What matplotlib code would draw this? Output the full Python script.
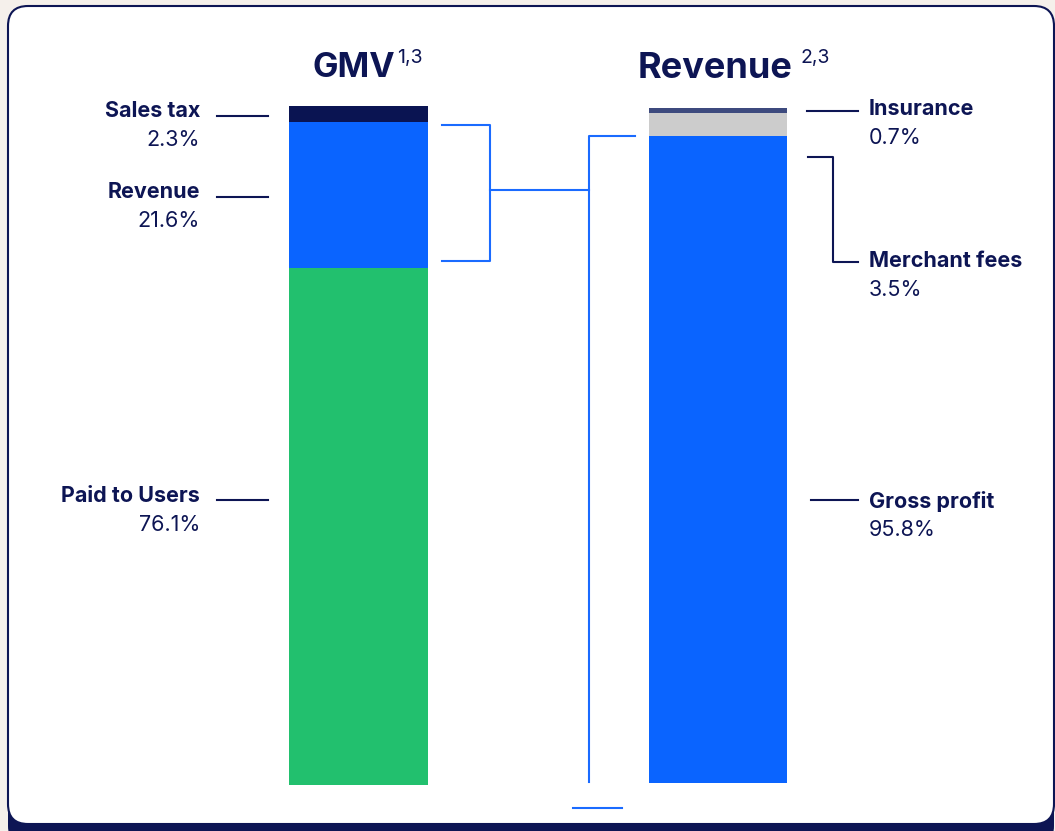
import matplotlib
matplotlib.use('Agg')
import matplotlib.pyplot as plt
from matplotlib.patches import FancyBboxPatch

plt.rcParams['font.family'] = ['Inter', 'DejaVu Sans']

# data
gmv_labels = ['Paid to Users', 'Revenue', 'Sales tax']
gmv_values = [76.1, 21.6, 2.3]
gmv_colors = ['#22c06e', '#0a64ff', '#0a1452']

rev_labels = ['Gross profit', 'Merchant fees', 'Insurance']
rev_values = [95.8, 3.5, 0.7]
rev_colors = ['#0a64ff', '#cccccc', '#3d4a7e']

NAVY = '#0d1554'
BLUE = '#1a6bff'
W, H = 1055, 831
FS = 15.5

fig = plt.figure(figsize=(W / 100, H / 100), dpi=100)
fig.patch.set_facecolor('#f5f0eb')

# pixel-space axis for card, labels and connectors
ax = fig.add_axes([0, 0, 1, 1])
ax.set_xlim(0, W)
ax.set_ylim(H, 0)
ax.axis('off')

# card with navy shadow at the bottom
shadow = FancyBboxPatch((8, 16), 1046, 830, boxstyle='round,pad=0,rounding_size=20',
                        fc=NAVY, ec='none', zorder=0)
card = FancyBboxPatch((8, 6), 1046, 818, boxstyle='round,pad=0,rounding_size=20',
                      fc='white', ec=NAVY, lw=1.5, zorder=1)
ax.add_patch(shadow)
ax.add_patch(card)


def bar_axes(x0, x1, ytop, ybot):
    b = fig.add_axes([x0 / W, 1 - ybot / H, (x1 - x0) / W, (ybot - ytop) / H])
    b.set_xlim(-0.5, 0.5)
    b.set_ylim(0, 100)
    b.axis('off')
    b.patch.set_alpha(0)
    return b


bx1 = bar_axes(289, 428, 106, 785)
bottom = 0
for v, c in zip(gmv_values, gmv_colors):
    bx1.bar(0, v, bottom=bottom, width=1, color=c, linewidth=0)
    bottom += v

bx2 = bar_axes(649, 787, 108, 783)
bottom = 0
for v, c in zip(rev_values, rev_colors):
    bx2.bar(0, v, bottom=bottom, width=1, color=c, linewidth=0)
    bottom += v

# titles
ax.text(312, 68, 'GMV', fontsize=24.5, fontweight='bold', color=NAVY, ha='left', va='center', zorder=3)
ax.text(397, 58, '1,3', fontsize=14, color=NAVY, ha='left', va='center', zorder=3)
ax.text(638, 68, 'Revenue', fontsize=26, fontweight='bold', color=NAVY, ha='left', va='center', zorder=3)
ax.text(800, 58, '2,3', fontsize=14, color=NAVY, ha='left', va='center', zorder=3)

# left labels (GMV)
gmv_label_y = [496, 192, 111]
gmv_line_y = [500, 197, 116]
for lab, v, y, ly in zip(gmv_labels, gmv_values, gmv_label_y, gmv_line_y):
    ax.text(200, y, lab, fontsize=FS, fontweight='bold', color=NAVY, ha='right', va='center', zorder=3)
    ax.text(200, y + 29, f'{v}%', fontsize=FS, color=NAVY, ha='right', va='center', zorder=3)
    ax.plot([217, 268], [ly, ly], color=NAVY, lw=1.5, zorder=3)

# right labels (Revenue)
rev_label_y = [501, 261, 109]
for lab, v, y in zip(rev_labels, rev_values, rev_label_y):
    ax.text(869, y, lab, fontsize=FS, fontweight='bold', color=NAVY, ha='left', va='center', zorder=3)
    ax.text(869, y + 29, f'{v}%', fontsize=FS, color=NAVY, ha='left', va='center', zorder=3)
ax.plot([811, 858], [500, 500], color=NAVY, lw=1.5, zorder=3)
ax.plot([807, 858], [111, 111], color=NAVY, lw=1.5, zorder=3)
ax.plot([808, 833, 833, 858], [157, 157, 262, 262], color=NAVY, lw=1.5, zorder=3)

# blue connector between the two revenue blocks
ax.plot([442, 490, 490, 442], [125, 125, 261, 261], color=BLUE, lw=1.5, zorder=3)
ax.plot([490, 589], [190, 190], color=BLUE, lw=1.5, zorder=3)
ax.plot([635, 589, 589], [136, 136, 782], color=BLUE, lw=1.5, zorder=3)
ax.plot([573, 622], [808, 808], color=BLUE, lw=1.5, zorder=3)

fig.savefig('out.png', dpi=100, facecolor=fig.get_facecolor())
